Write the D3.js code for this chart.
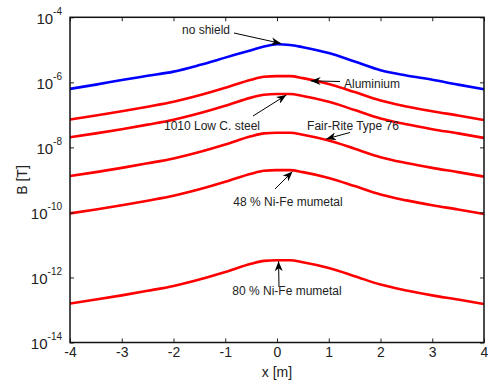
<!DOCTYPE html>
<html>
<head>
<meta charset="utf-8">
<script src="https://cdn.jsdelivr.net/npm/d3@7"></script>
<style>
  html, body { margin: 0; padding: 0; background: #fff; }
  svg { display: block; font-family: Arial, "Liberation Sans", sans-serif; }
</style>
</head>
<body>
<svg id="chart" width="488" height="384"></svg>
<script>
// x positions [m]
const xValues = [-4, -3.5, -3, -2.5, -2, -1.5, -1, -0.5, -0.25, 0, 0.25, 0.5, 1, 1.5, 2, 2.5, 3, 3.5, 4];
// log10(B [T])
const noShield   = [-6.20, -6.07, -5.93, -5.80, -5.67, -5.47, -5.24, -5.01, -4.90, -4.83, -4.85, -4.92, -5.10, -5.36, -5.63, -5.79, -5.92, -6.07, -6.21];
const aluminium  = [-7.14, -7.02, -6.89, -6.75, -6.60, -6.40, -6.17, -5.92, -5.83, -5.81, -5.81, -5.87, -6.05, -6.30, -6.56, -6.74, -6.89, -7.02, -7.16];
const lowCSteel  = [-7.69, -7.57, -7.44, -7.30, -7.15, -6.95, -6.72, -6.47, -6.38, -6.36, -6.36, -6.42, -6.60, -6.85, -7.11, -7.29, -7.44, -7.57, -7.71];
const fairRite   = [-8.88, -8.76, -8.63, -8.49, -8.34, -8.14, -7.91, -7.66, -7.57, -7.55, -7.55, -7.61, -7.79, -8.04, -8.30, -8.48, -8.63, -8.76, -8.90];
const niFe48     = [-10.03, -9.91, -9.78, -9.64, -9.49, -9.29, -9.06, -8.81, -8.72, -8.70, -8.70, -8.76, -8.94, -9.19, -9.45, -9.63, -9.78, -9.91, -10.05];
const niFe80     = [-12.80, -12.68, -12.55, -12.41, -12.26, -12.06, -11.83, -11.58, -11.49, -11.47, -11.47, -11.53, -11.71, -11.96, -12.22, -12.40, -12.55, -12.68, -12.82];

const xTicks = [-4, -3, -2, -1, 0, 1, 2, 3, 4];
const yTickExponents = [-14, -12, -10, -8, -6, -4];

const seriesList = [
  { name: "no shield", values: noShield, color: "#0000ff" },
  { name: "Aluminium", values: aluminium, color: "#ff0000" },
  { name: "1010 Low C. steel", values: lowCSteel, color: "#ff0000" },
  { name: "Fair-Rite Type 76", values: fairRite, color: "#ff0000" },
  { name: "48 % Ni-Fe mumetal", values: niFe48, color: "#ff0000" },
  { name: "80 % Ni-Fe mumetal", values: niFe80, color: "#ff0000" }
];

// annotations: text position + arrow (data coords for tip, pixel offsets for tail)
const annotations = [
  { text: "no shield",           tx: 206, ty: 34,  from: [234, 33],  tipX: 0.08, tipS: 0 },
  { text: "Aluminium",           tx: 372, ty: 88,  from: [340, 81.5], tipX: 0.65, tipS: 1 },
  { text: "1010 Low C. steel",   tx: 212, ty: 130, from: [253, 116], tipX: 0.18, tipS: 2 },
  { text: "Fair-Rite Type 76",   tx: 353, ty: 130, from: [350, 132.5], tipX: 0.95, tipS: 3 },
  { text: "48 % Ni-Fe mumetal",  tx: 288, ty: 206, from: [275, 189], tipX: 0.30, tipS: 4 },
  { text: "80 % Ni-Fe mumetal",  tx: 287, ty: 295, from: [279, 287], tipX: 0.03, tipS: 5 }
];

const svg = d3.select("#chart");
const L = 70, R = 484, T = 17.3, B = 342.5;

const x = d3.scaleLinear().domain([-4, 4]).range([L, R]);
const y = d3.scaleLog().domain([1e-14, 1e-4]).range([B, T]);

const defs = svg.append("defs");
defs.append("marker")
  .attr("id", "arrow")
  .attr("viewBox", "0 0 10 8")
  .attr("refX", 10).attr("refY", 4)
  .attr("markerWidth", 10).attr("markerHeight", 8)
  .attr("markerUnits", "userSpaceOnUse")
  .attr("orient", "auto")
  .append("path")
  .attr("d", "M0,0 L10,4 L0,8 L3,4 Z")
  .attr("fill", "#000");

// curves
const line = d3.line()
  .x((d, i) => x(xValues[i]))
  .y(d => y(Math.pow(10, d)))
  .curve(d3.curveMonotoneX);

svg.append("g").selectAll("path")
  .data(seriesList)
  .join("path")
  .attr("d", s => line(s.values))
  .attr("fill", "none")
  .attr("stroke", s => s.color)
  .attr("stroke-width", 2.6)
  .attr("stroke-linejoin", "round");

// axes
const yTickVals = yTickExponents.map(e => Math.pow(10, e));

const gx = svg.append("g").attr("transform", `translate(0,${B})`)
  .call(d3.axisBottom(x).tickValues(xTicks).tickSizeInner(-4).tickSizeOuter(0).tickPadding(5).tickFormat(d => String(d)));
const gxTop = svg.append("g").attr("transform", `translate(0,${T})`)
  .call(d3.axisTop(x).tickValues(xTicks).tickSizeInner(-4).tickSizeOuter(0).tickFormat(""));
const gy = svg.append("g").attr("transform", `translate(${L},0)`)
  .call(d3.axisLeft(y).tickValues(yTickVals).tickSizeInner(-4).tickSizeOuter(0).tickPadding(12).tickFormat(""));
const gyR = svg.append("g").attr("transform", `translate(${R},0)`)
  .call(d3.axisRight(y).tickValues(yTickVals).tickSizeInner(-4).tickSizeOuter(0).tickFormat(""));

[gx, gxTop, gy, gyR].forEach(g => {
  g.select(".domain").remove();
  g.selectAll(".tick line").attr("stroke", "#222").attr("stroke-width", 1);
});
gx.selectAll(".tick text").attr("font-size", 14).attr("fill", "#222").attr("font-family", "Arial, 'Liberation Sans', sans-serif");

// y tick labels with superscripts
gy.selectAll(".tick").each(function(d) {
  const t = d3.select(this).select("text");
  t.text(null).attr("x", -8).attr("dy", null).attr("y", 6)
    .attr("font-size", 15).attr("fill", "#222").attr("text-anchor", "end")
    .attr("font-family", "Arial, 'Liberation Sans', sans-serif");
  const e = Math.round(Math.log10(d));
  t.append("tspan").text("10");
  t.append("tspan").attr("font-size", 10).attr("dy", -9).text(String(e));
});

// frame
svg.append("rect")
  .attr("x", L).attr("y", T).attr("width", R - L).attr("height", B - T)
  .attr("fill", "none").attr("stroke", "#111").attr("stroke-width", 1.5);

// annotations
const ann = svg.append("g");
annotations.forEach(a => {
  const s = seriesList[a.tipS];
  const i = d3.bisectLeft(xValues, a.tipX);
  const x0 = xValues[Math.max(i - 1, 0)], x1 = xValues[i];
  const v0 = s.values[Math.max(i - 1, 0)], v1 = s.values[i];
  const t = x1 === x0 ? 0 : (a.tipX - x0) / (x1 - x0);
  const v = v0 + t * (v1 - v0);
  const tipPx = [x(a.tipX), y(Math.pow(10, v))];
  ann.append("line")
    .attr("x1", a.from[0]).attr("y1", a.from[1])
    .attr("x2", tipPx[0]).attr("y2", tipPx[1] + (a.from[1] > tipPx[1] ? 1 : -1))
    .attr("stroke", "#000").attr("stroke-width", 1)
    .attr("marker-end", "url(#arrow)");
  ann.append("text")
    .attr("x", a.tx).attr("y", a.ty)
    .attr("text-anchor", "middle")
    .attr("font-size", 12).attr("fill", "#222")
    .text(a.text);
});

// axis titles
svg.append("text")
  .attr("x", (L + R) / 2).attr("y", 377)
  .attr("text-anchor", "middle").attr("font-size", 14).attr("fill", "#222")
  .text("x [m]");
svg.append("text")
  .attr("transform", "translate(27,180) rotate(-90)")
  .attr("text-anchor", "middle").attr("font-size", 14).attr("fill", "#222")
  .text("B [T]");
</script>
</body>
</html>
